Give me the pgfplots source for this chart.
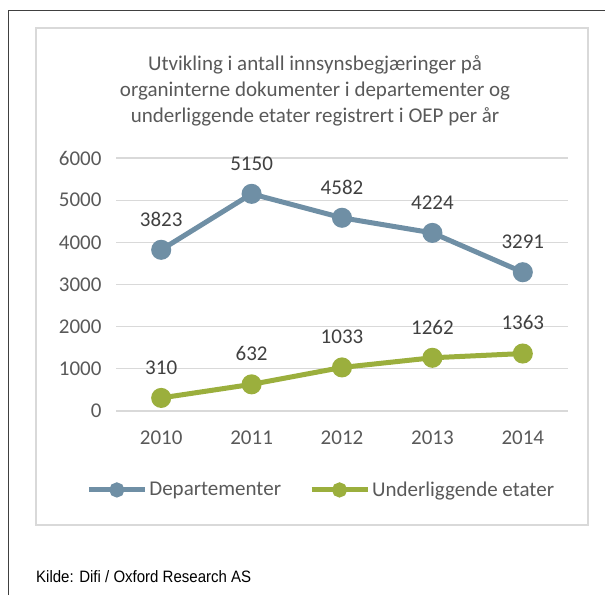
\documentclass[border=0pt]{standalone}
\usepackage{fontspec}
\setmainfont{Carlito}
\newfontfamily\arial{Liberation Sans}
\usepackage{pgfplots}
\pgfplotsset{compat=1.18}

\definecolor{dep}{HTML}{6F8FA5}
\definecolor{und}{HTML}{9BAF3D}
\definecolor{txt}{HTML}{595959}
\definecolor{lbl}{HTML}{404040}
\definecolor{grd}{HTML}{D9D9D9}

\pgfplotstableread{
x year dep und
0 2010 3823 310
1 2011 5150 632
2 2012 4582 1033
3 2013 4224 1262
4 2014 3291 1363
}\datatable

\begin{document}
\begin{tikzpicture}[x=1pt,y=1pt]
\path[use as bounding box] (0,0) rectangle (605,595);
% page frame and chart frame
\draw[line width=1.2pt, black!75] (8.5,0) -- (8.5,584.5) -- (605,584.5);
\draw[grd, line width=1.2pt] (36,70) rectangle (588,567);

\node[txt, align=center, font=\fontsize{21}{26}\selectfont] at (315,504)
  {Utvikling i antall innsynsbegjæringer på\\organinterne dokumenter i departementer og\\underliggende etater registrert i OEP per år};

\node[anchor=base west, inner sep=0pt, font=\arial\fontsize{16.5}{18}\selectfont] at (36,13)
  {\scalebox{0.91}[1]{Kilde: Difi / Oxford Research AS}};

\begin{axis}[
  at={(116pt,184pt)}, anchor=south west,
  scale only axis,
  width=452pt, height=253pt,
  xmin=-0.5, xmax=4.5,
  ymin=0, ymax=6000,
  xtick=data,
  xticklabels={2010,2011,2012,2013,2014},
  ytick={0,1000,...,6000},
  axis line style={draw=none},
  tick style={draw=none},
  ymajorgrids,
  grid style={grd, line width=1.3pt},
  ticklabel style={txt, font=\fontsize{21}{25}\selectfont},
  yticklabel style={xshift=-11pt},
  xticklabel style={yshift=-16pt},
  /pgf/number format/assume math mode=true,
  /pgf/number format/1000 sep={},
  scaled y ticks=false,
  nodes near coords,
  nodes near coords style={lbl, font=\fontsize{21}{25}\selectfont, anchor=south, inner sep=0pt, yshift=21pt},
  legend columns=2,
  legend style={draw=none, fill=none, at={(0.454,-0.312)}, anchor=center,
    font=\fontsize{21}{25}\selectfont, text=txt,
    /tikz/every odd column/.append style={column sep=0pt},
    /tikz/every even column/.append style={column sep=26pt}},
  legend image code/.code={
    \draw[#1, mark size=5pt, mark repeat=2, mark phase=2] plot coordinates {(0pt,0pt)(28pt,0pt)(56pt,0pt)};
  },
]
\addplot[dep, line width=5pt, mark=*, mark size=7.5pt, mark options={solid}]
  table[x=x, y=dep] {\datatable};
\addlegendentry{Departementer}
\addplot[und, line width=5pt, mark=*, mark size=7.5pt, mark options={solid}]
  table[x=x, y=und] {\datatable};
\addlegendentry{Underliggende etater}
\end{axis}
\end{tikzpicture}
\end{document}
